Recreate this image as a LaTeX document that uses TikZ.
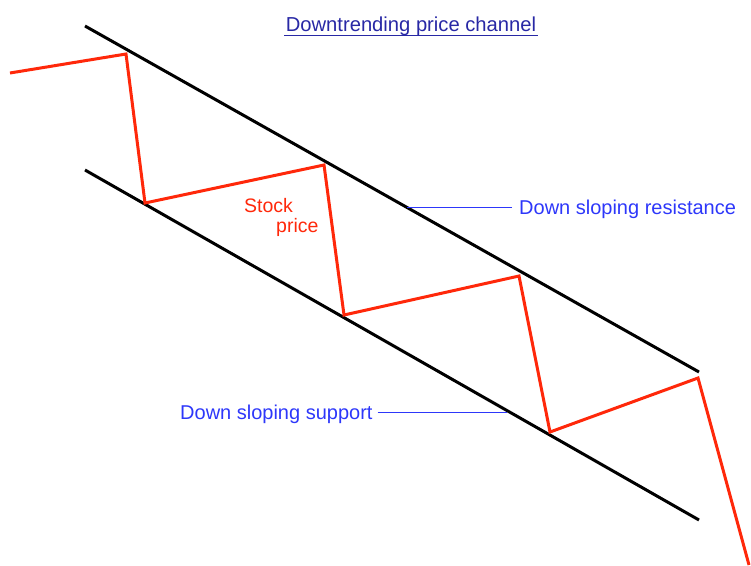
\documentclass[tikz,border=0pt]{standalone}
\usepackage{fontspec}
\setmainfont{Liberation Sans}
\definecolor{titleblue}{RGB}{40,40,165}
\definecolor{labelblue}{RGB}{45,55,250}
\definecolor{pricered}{RGB}{255,40,10}
\tikzset{
  channel/.style={black,line width=3pt},
  pricepath/.style={pricered,line width=3pt,line join=miter},
  leader/.style={labelblue,line width=1pt},
  lbl/.style={labelblue,inner sep=0pt,anchor=base west,font=\fontsize{20}{24}\selectfont},
  redlbl/.style={pricered,inner sep=0pt,anchor=base west,font=\fontsize{19.5}{23}\selectfont},
}
\begin{document}
\begin{tikzpicture}[x=1pt,y=-1pt]
\useasboundingbox (0,0) rectangle (751,565);
% channel lines
\coordinate (r1) at (85,26);
\coordinate (r2) at (699,372);
\coordinate (s1) at (85,170);
\coordinate (s2) at (699,520);
\draw[channel] (r1) -- (r2);
\draw[channel] (s1) -- (s2);
% price path
\coordinate (p0) at (10,73);
\coordinate (p1) at (126,54);
\coordinate (p2) at (145,203);
\coordinate (p3) at (324,165);
\coordinate (p4) at (344,315);
\coordinate (p5) at (519,276);
\coordinate (p6) at (550,432);
\coordinate (p7) at (698,378);
\coordinate (p8) at (749,565);
\draw[pricepath] (p0) -- (p1) -- (p2) -- (p3) -- (p4) -- (p5) -- (p6) -- (p7) -- (p8);
% title
\node[titleblue,inner sep=0pt,anchor=base,font=\fontsize{20.2}{24}\selectfont] (title) at (411,31) {Downtrending price channel};
\coordinate (u1) at (284,35.5);
\coordinate (u2) at (538,35.5);
\draw[titleblue,line width=1pt] (u1) -- (u2);
% labels
\node[redlbl] (stock) at (244,212) {Stock};
\node[redlbl] (price) at (276,232) {price};
\node[lbl] (res) at (519,214) {Down sloping resistance};
\coordinate (resend) at (407,207);
\draw[leader] (res.west |- resend) ++(-7,0) coordinate (resstart) -- (resend);
\node[lbl] (sup) at (180,419) {Down sloping support};
\coordinate (supend) at (507,412);
\draw[leader] (sup.east |- supend) ++(5,0) coordinate (supstart) -- (supend);
\end{tikzpicture}
\end{document}
